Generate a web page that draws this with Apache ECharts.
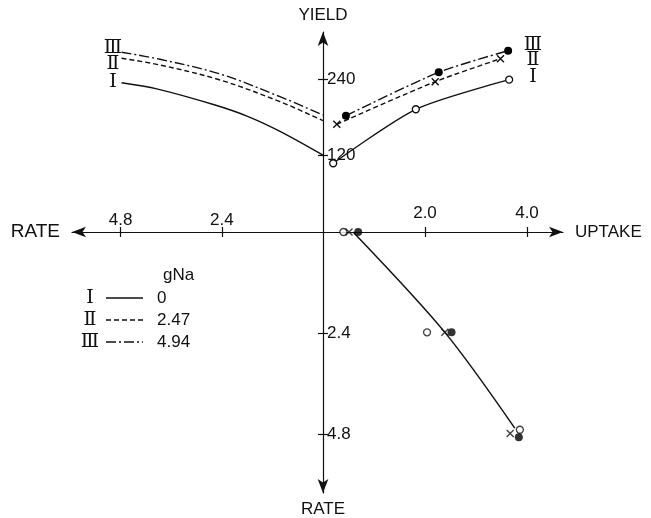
<!DOCTYPE html>
<html><head><meta charset="utf-8">
<script src="https://cdn.jsdelivr.net/npm/echarts@6/dist/echarts.min.js"></script>
<style>html,body{margin:0;padding:0;background:#fff}#c{width:651px;height:518px}</style>
</head><body><div id="c"></div>
<script>
// ---- data ----
const uptakeTicks = [2.0, 4.0];
const yieldTicks = [120, 240];
const rateTicks = [2.4, 4.8];
const seriesNames = ['I', 'II', 'III'];
const naValues = ['0', '2.47', '4.94'];
// upper right: [uptake, yield]
const uptakeYieldI = [[0.20, 107.8], [1.82, 192.5], [3.65, 238.9]];
const uptakeYieldII = [[0.27, 169], [2.20, 235.8], [3.48, 271.8]];
const uptakeYieldIII = [[0.45, 182.4], [2.27, 250.5], [3.63, 284.4]];
// upper left: [rate, yield]
const rateYieldI = [[4.78, 234.2], [3.92, 224.2], [2.58, 199.6], [1.79, 181.5], [1.02, 157.9], [0, 120.6]];
const rateYieldII = [[4.78, 272.5], [3.87, 262], [2.44, 238.4], [1.02, 204.4], [0, 174.6]];
const rateYieldIII = [[4.78, 281.9], [3.87, 270.9], [2.44, 247.8], [1.02, 212.2], [0, 183.5]];
// lower right: [uptake, rate]
const uptakeRateI = [[0.40, 0], [2.04, 2.38], [3.86, 4.69]];
const uptakeRateII = [[0.51, 0], [2.39, 2.38], [3.67, 4.78]];
const uptakeRateIII = [[0.69, 0], [2.52, 2.38], [3.84, 4.87]];
const uptakeRateFit = [[0.59, 0], [2.39, 2.38], [3.76, 4.65]];

// ---- style ----
const FONT = '"Liberation Sans","Arial",sans-serif';
const ROMAN = '"DejaVu Serif","Liberation Serif",serif';
const ink = '#111';
const axisLineStyle = {color: ink, width: 1.2};
const arrowEnd = {symbol: ['none', 'arrow'], symbolSize: [8, 14]};
const arrowStart = {symbol: ['arrow', 'none'], symbolSize: [8, 14]};
const lineTypes = ['solid', [5, 3], [10, 3, 2, 3]];
const UPT_MAX = 4.706, YLD_MAX = 313.7, RATE_L_MAX = 5.955, RATE_D_MAX = 6.19;

function valAxis(o) {
  return Object.assign({type: 'value', splitLine: {show: false},
    axisLine: {show: false}, axisTick: {show: false}, axisLabel: {show: false}}, o);
}
const tickLabel = {color: ink, fontFamily: FONT, fontSize: 17};

const option = {
  animation: false,
  backgroundColor: '#fff',
  grid: [
    {left: 323, top: 32, width: 240, height: 200},
    {left: 72, top: 32, width: 251, height: 200},
    {left: 323, top: 232, width: 240, height: 261}
  ],
  xAxis: [
    valAxis({gridIndex: 0, min: 0, max: UPT_MAX, position: 'bottom',
      axisLine: Object.assign({show: true, lineStyle: axisLineStyle}, arrowEnd),
      axisTick: {show: true, customValues: uptakeTicks, length: 5, lineStyle: axisLineStyle},
      axisLabel: {show: true, inside: true, customValues: uptakeTicks, margin: 10, formatter: v => v.toFixed(1), ...tickLabel},
      name: 'UPTAKE', nameLocation: 'end', nameGap: 12,
      nameTextStyle: {color: ink, fontFamily: FONT, fontSize: 17}}),
    valAxis({gridIndex: 0, min: 0, max: UPT_MAX, position: 'bottom',
      axisTick: {show: true, inside: true, customValues: uptakeTicks, length: 5, lineStyle: axisLineStyle}}),
    valAxis({gridIndex: 1, min: 0, max: RATE_L_MAX, inverse: true, position: 'bottom',
      axisLine: Object.assign({show: true, lineStyle: axisLineStyle}, arrowStart),
      axisTick: {show: true, customValues: rateTicks, length: 5, lineStyle: axisLineStyle},
      axisLabel: {show: true, inside: true, customValues: rateTicks, margin: 3, formatter: v => v.toFixed(1), ...tickLabel},
      name: 'RATE', nameLocation: 'end', nameGap: 12,
      nameTextStyle: {color: ink, fontFamily: FONT, fontSize: 19}}),
    valAxis({gridIndex: 1, min: 0, max: RATE_L_MAX, inverse: true, position: 'bottom',
      axisTick: {show: true, inside: true, customValues: rateTicks, length: 5, lineStyle: axisLineStyle}}),
    valAxis({gridIndex: 2, min: 0, max: UPT_MAX, position: 'top'})
  ],
  yAxis: [
    valAxis({gridIndex: 0, min: 0, max: YLD_MAX, position: 'left',
      axisLine: Object.assign({show: true, lineStyle: axisLineStyle}, arrowEnd),
      axisTick: {show: true, customValues: yieldTicks, length: 5, lineStyle: axisLineStyle},
      axisLabel: {show: true, inside: true, customValues: yieldTicks, margin: 4, ...tickLabel},
      name: 'YIELD', nameLocation: 'end', nameGap: 8,
      nameTextStyle: {color: ink, fontFamily: FONT, fontSize: 17}}),
    valAxis({gridIndex: 0, min: 0, max: YLD_MAX, position: 'left',
      axisTick: {show: true, inside: true, customValues: yieldTicks, length: 5, lineStyle: axisLineStyle}}),
    valAxis({gridIndex: 1, min: 0, max: YLD_MAX, position: 'right'}),
    valAxis({gridIndex: 2, min: 0, max: RATE_D_MAX, inverse: true, position: 'left',
      axisLine: Object.assign({show: true, lineStyle: axisLineStyle}, arrowStart),
      axisTick: {show: true, customValues: rateTicks, length: 5, lineStyle: axisLineStyle},
      axisLabel: {show: true, inside: true, customValues: rateTicks, margin: 4, formatter: v => v.toFixed(1), ...tickLabel},
      name: 'RATE', nameLocation: 'end', nameGap: 8,
      nameTextStyle: {color: ink, fontFamily: FONT, fontSize: 17}}),
    valAxis({gridIndex: 2, min: 0, max: RATE_D_MAX, inverse: true, position: 'left',
      axisTick: {show: true, inside: true, customValues: rateTicks, length: 5, lineStyle: axisLineStyle}})
  ],
  series: []
};

const openCircle = {symbol: 'circle', symbolSize: 7, itemStyle: {color: '#fff', borderColor: ink, borderWidth: 1.3}};
const cross = {symbol: 'path://M0,0L10,10M10,0L0,10', symbolSize: 7, itemStyle: {color: 'rgba(0,0,0,0)', borderColor: ink, borderWidth: 1.4}};
const filled = {symbol: 'circle', symbolSize: 8, itemStyle: {color: '#000', borderColor: '#000', borderWidth: 0}};
const markers = [openCircle, cross, filled];
const urData = [uptakeYieldI, uptakeYieldII, uptakeYieldIII];
const ulData = [rateYieldI, rateYieldII, rateYieldIII];
const lrData = [uptakeRateI, uptakeRateII, uptakeRateIII];

for (let i = 0; i < 3; i++) {
  option.series.push(Object.assign({
    name: seriesNames[i], type: 'line', xAxisIndex: 0, yAxisIndex: 0, data: urData[i],
    smooth: 0.25, lineStyle: {color: ink, width: 1.4, type: lineTypes[i]}, z: 3 + i
  }, markers[i]));
  option.series.push({
    name: seriesNames[i], type: 'line', xAxisIndex: 2, yAxisIndex: 2, data: ulData[i],
    smooth: 0.35, symbol: 'none', lineStyle: {color: ink, width: 1.4, type: lineTypes[i]}
  });
  option.series.push(Object.assign({
    name: seriesNames[i], type: 'scatter', xAxisIndex: 4, yAxisIndex: 3, data: lrData[i], z: 5 + i
  }, markers[i]));
}
option.series.push({
  name: 'fit', type: 'line', xAxisIndex: 4, yAxisIndex: 3, data: uptakeRateFit,
  smooth: 0.3, symbol: 'none', lineStyle: {color: ink, width: 1.5}, z: 2
});

// legend and curve labels drawn as graphic text
const romanChars = ['Ⅰ', 'Ⅱ', 'Ⅲ'];
const g = [];
g.push({type: 'text', x: 163, y: 275, style: {text: 'gNa', font: '17px ' + FONT, fill: ink, verticalAlign: 'middle'}});
const rowY = [298, 320, 342];
for (let i = 0; i < 3; i++) {
  g.push({type: 'text', x: 90, y: rowY[i], style: {text: romanChars[i], font: '19px ' + ROMAN, fill: ink, align: 'center', verticalAlign: 'middle'}});
  g.push({type: 'line', shape: {x1: 106, y1: rowY[i], x2: 143, y2: rowY[i]}, style: {stroke: ink, lineWidth: 1.3, lineDash: i === 0 ? null : lineTypes[i]}});
  g.push({type: 'text', x: 157, y: rowY[i], style: {text: naValues[i], font: '17px ' + FONT, fill: ink, align: 'left', verticalAlign: 'middle'}});
}
const leftLabY = [82, 64, 48];
const rightLabY = [77, 60, 45];
for (let i = 0; i < 3; i++) {
  g.push({type: 'text', x: 113, y: leftLabY[i], style: {text: romanChars[i], font: '19px ' + ROMAN, fill: ink, align: 'center', verticalAlign: 'middle'}});
  g.push({type: 'text', x: 533, y: rightLabY[i], style: {text: romanChars[i], font: '19px ' + ROMAN, fill: ink, align: 'center', verticalAlign: 'middle'}});
}
option.graphic = g;

const chart = echarts.init(document.getElementById('c'), null, {renderer: 'canvas'});
chart.setOption(option);
</script></body></html>
